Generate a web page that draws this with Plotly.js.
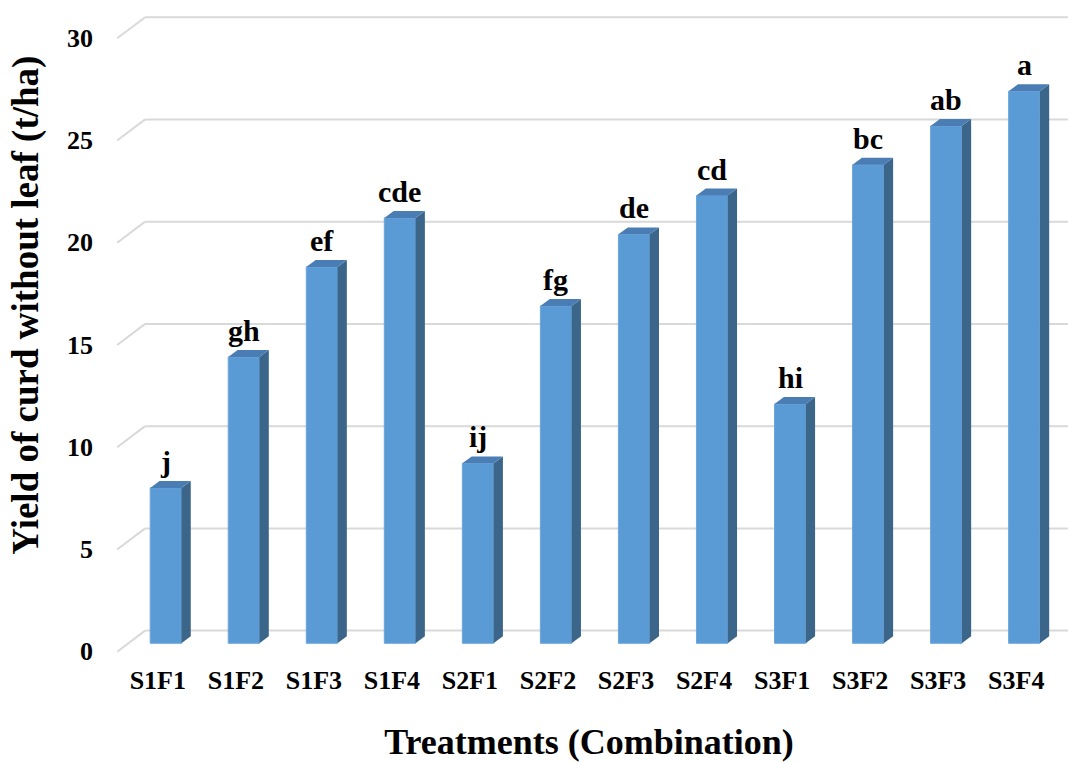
<!DOCTYPE html>
<html><head><meta charset="utf-8">
<script src="https://cdn.plot.ly/plotly-3.0.1.min.js"></script>
<style>html,body{margin:0;padding:0;background:#fff;overflow:hidden}</style>
</head><body><div id="chart" style="width:1068px;height:762px"></div>
<script>
// ---- data ----
const categories = ['S1F1','S1F2','S1F3','S1F4','S2F1','S2F2','S2F3','S2F4','S3F1','S3F2','S3F3','S3F4'];
const yieldValues = [7.6, 14.0, 18.4, 20.8, 8.8, 16.5, 20.0, 21.9, 11.7, 23.4, 25.3, 27.0];
const significanceLetters = ['j','gh','ef','cde','ij','fg','de','cd','hi','bc','ab','a'];
const yTickValues = [0, 5, 10, 15, 20, 25, 30];

// ---- style / pseudo-3D geometry (in axis units) ----
const FONT = 'Liberation Serif, Times New Roman, serif';
const FRONT = '#5B9BD5', SIDE = '#3B6689', TOP = '#4A7DB4', GRID = '#D9D9D9';
const halfW = 0.2;           // half bar width
const barDX = 0.12, barDY = 0.34;       // bar depth offset
const wallDX = 0.215, wallDY = 0.62;    // back wall offset from bar front plane
const floorDX = -0.1435, floorDY = -0.41; // front edge offset
const xRange = [-0.715, 11.561];
const yRange = [-0.817, 31.46];

const xIdx = categories.map((_, i) => i);

const shapes = [];
// back-wall gridlines with the oblique side-wall segment
yTickValues.forEach(v => {
  shapes.push({type:'line', layer:'below', xref:'x', yref:'y',
    x0: floorDX - 0.48, y0: v + floorDY, x1: wallDX - 0.48, y1: v + wallDY,
    line:{color:GRID, width:2}});
  shapes.push({type:'line', layer:'below', xref:'x', yref:'y',
    x0: wallDX - 0.48, y0: v + wallDY, x1: xRange[1] + 1, y1: v + wallDY,
    line:{color:GRID, width:2}});
});
// side and top faces of each column
xIdx.forEach((x, i) => {
  const v = yieldValues[i];
  const xr = x + halfW, xl = x - halfW;
  shapes.push({type:'path', xref:'x', yref:'y', layer:'above',
    path:`M${xr},0 L${xr+barDX},${barDY} L${xr+barDX},${v+barDY} L${xr},${v} Z`,
    fillcolor:SIDE, line:{width:0}});
  shapes.push({type:'path', xref:'x', yref:'y', layer:'above',
    path:`M${xl},${v} L${xl+barDX},${v+barDY} L${xr+barDX},${v+barDY} L${xr},${v} Z`,
    fillcolor:TOP, line:{width:0}});
});

const annotations = xIdx.map((x, i) => ({
  x: x, y: yieldValues[i] + barDY, xref:'x', yref:'y',
  text: significanceLetters[i], showarrow:false, yanchor:'bottom', yshift:1,
  font:{family:FONT, size:30, color:'#000', weight:700}
}));
annotations.push({
  xref:'paper', yref:'paper', x:-0.088, y:0.5379, xanchor:'center', yanchor:'middle',
  text:'Yield of curd without leaf (t/ha)', textangle:-90, showarrow:false,
  font:{family:FONT, size:37, color:'#000', weight:700}
});

const trace = {
  type:'bar', x: xIdx, y: yieldValues, width: 2*halfW,
  marker:{color:FRONT, line:{color:'#6CA6DC', width:1}},
  hovertemplate:'%{text}: %{y}<extra></extra>', text: categories, textposition:'none'
};

const layout = {
  width:1068, height:762,
  margin:{l:110, r:0, t:0, b:102},
  paper_bgcolor:'#fff', plot_bgcolor:'rgba(0,0,0,0)',
  showlegend:false,
  font:{family:FONT, color:'#000'},
  xaxis:{
    range:xRange, tickmode:'array', tickvals:xIdx, ticktext:categories,
    showgrid:false, zeroline:false, showline:false, ticks:'',
    ticklabelshift:-8, ticklabelstandoff:2,
    tickfont:{family:FONT, size:26, weight:700, color:'#000'},
    title:{text:'Treatments (Combination)', standoff:36,
      font:{family:FONT, size:36, weight:700, color:'#000'}},
    fixedrange:true
  },
  yaxis:{
    range:yRange, tickmode:'array', tickvals:yTickValues,
    showgrid:false, zeroline:false, showline:false, ticks:'',
    ticklabelshift:8, ticklabelstandoff:16,
    tickfont:{family:FONT, size:26, weight:700, color:'#000'},
    fixedrange:true
  },
  shapes: shapes,
  annotations: annotations
};

Plotly.newPlot('chart', [trace], layout, {displayModeBar:false, staticPlot:true});
</script></body></html>
